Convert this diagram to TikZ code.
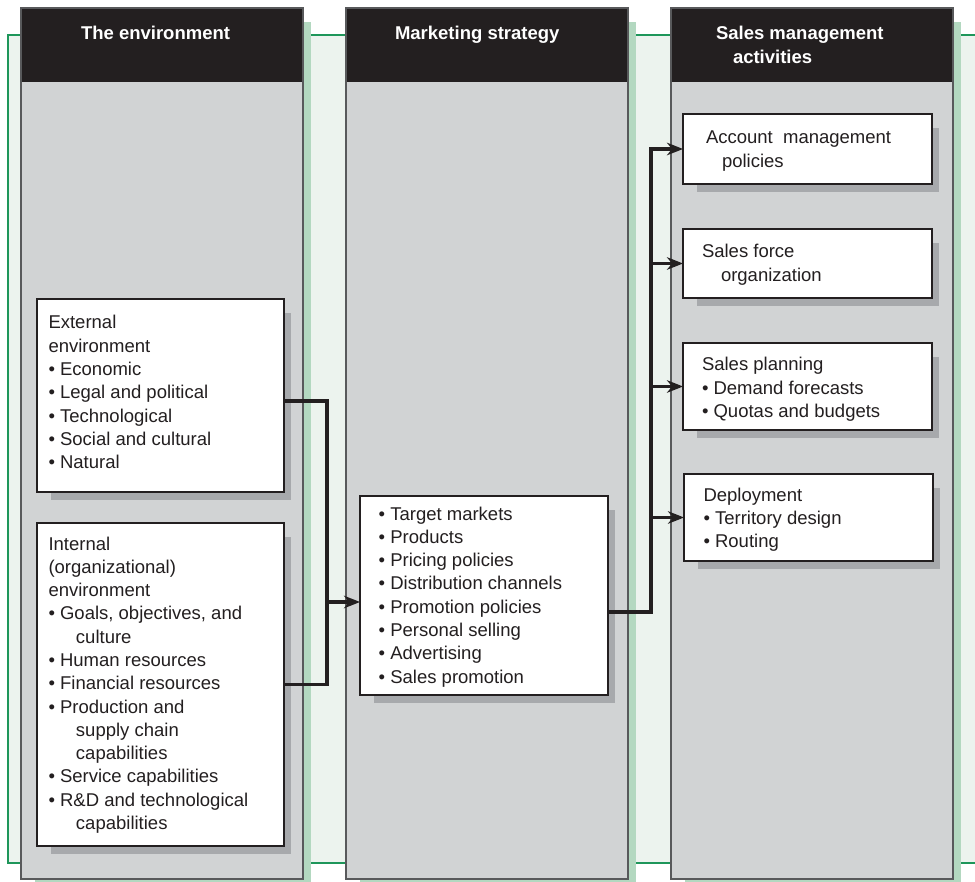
\documentclass[tikz,border=0pt]{standalone}
\usepackage{fontspec}
\setmainfont{Liberation Sans}
\usetikzlibrary{arrows.meta}

\pgfdeclarelayer{backdrop}
\pgfdeclarelayer{shade}
\pgfsetlayers{backdrop,shade,main}

\definecolor{framegreen}{RGB}{30,150,90}
\definecolor{framefill}{RGB}{236,243,238}
\definecolor{colshade}{RGB}{179,216,192}
\definecolor{colfill}{RGB}{209,211,212}
\definecolor{coledge}{RGB}{88,89,91}
\definecolor{ink}{RGB}{35,31,32}
\definecolor{boxshade}{RGB}{167,169,172}

% bullet item and hanging continuation inside the text blocks
\newcommand{\bul}{\textbullet\ }
\newcommand{\contind}{\hspace*{27.5pt}}

\begin{document}
\begin{tikzpicture}[x=1pt,y=-1pt,
  column/.style={anchor=north west, inner sep=0pt, outer sep=0pt,
    fill=colfill, draw=coledge, line width=1.3pt,
    minimum width=282pt, minimum height=871pt},
  colshadow/.style={fill=colshade},
  header/.style={fill=ink},
  headtext/.style={anchor=base west, inner sep=0pt, outer sep=0pt,
    text=white, font=\fontsize{18.5}{23.3}\selectfont\bfseries},
  itembox/.style={anchor=north west, inner sep=0pt, outer sep=0pt,
    fill=white, draw=ink, line width=2.2pt},
  boxshadow/.style={fill=boxshade},
  txt/.style={anchor=base west, inner sep=0pt, outer sep=0pt,
    text=ink, font=\fontsize{18.5}{23.3}\selectfont},
  conn/.style={draw=ink, line width=3.2pt},
  tip/.style={-{Stealth[length=16pt,width=12.5pt,inset=5pt]}}
]
\useasboundingbox (0,0) rectangle (975,882);

% ---------- green frame, columns and their shadows ----------
\begin{pgfonlayer}{backdrop}
  \filldraw[fill=framefill, draw=framegreen, line width=1.8pt]
    (8,35) rectangle (1000,863);

  \node[column, fill=none, draw=none] (col1) at (21,8) {};
  \node[column, fill=none, draw=none] (col2) at (346,8) {};
  \node[column, fill=none, draw=none] (col3) at (671,8) {};

  \foreach \c in {col1,col2,col3} {
    \fill[colshadow] ([xshift=14pt,yshift=-14pt]\c.north west)
      rectangle ([xshift=8pt,yshift=-40pt]\c.south east);
  }
  \foreach \c in {col1,col2,col3} {
    \node[column] at (\c.north west) {};
    \fill[header] ([xshift=0.6pt,yshift=-0.6pt]\c.north west)
      rectangle ([xshift=-0.6pt,yshift=-74pt]\c.north east);
  }
\end{pgfonlayer}

% ---------- column headings ----------
\node[headtext] (h1) at (81,40) {The environment};
\node[headtext] (h2) at (395,40) {Marketing strategy};
\node[headtext] (h3) at (716,40)
  {\begin{tabular}[t]{@{}l@{}}Sales management\\\hspace*{17pt}activities\end{tabular}};

% ---------- content boxes ----------
\node[itembox, minimum width=247pt, minimum height=193pt] (ext) at (37,299) {};
\node[itembox, minimum width=247pt, minimum height=323pt] (int) at (37,523) {};
\node[itembox, minimum width=248pt, minimum height=199pt] (mid) at (360,496) {};
\node[itembox, minimum width=249pt, minimum height=70pt] (acc) at (683,114) {};
\node[itembox, minimum width=249pt, minimum height=69pt] (sfo) at (683,229) {};
\node[itembox, minimum width=249pt, minimum height=87pt] (spl) at (683,343) {};
\node[itembox, minimum width=249pt, minimum height=87pt] (dep) at (684,474) {};

\begin{pgfonlayer}{shade}
  \foreach \b in {ext,int,mid,acc,sfo,spl,dep} {
    \fill[boxshadow] ([xshift=14pt,yshift=-14pt]\b.north west)
      rectangle ([xshift=7pt,yshift=-8pt]\b.south east);
  }
\end{pgfonlayer}

% ---------- box texts ----------
\node[txt] (ext-t) at (48.5,329) {\begin{tabular}[t]{@{}l@{}}
  External\\
  environment\\
  \bul Economic\\
  \bul Legal and political\\
  \bul Technological\\
  \bul Social and cultural\\
  \bul Natural
\end{tabular}};

\node[txt] (int-t) at (48.5,550) {\begin{tabular}[t]{@{}l@{}}
  Internal\\
  (organizational)\\
  environment\\
  \bul Goals, objectives, and\\
  \contind culture\\
  \bul Human resources\\
  \bul Financial resources\\
  \bul Production and\\
  \contind supply chain\\
  \contind capabilities\\
  \bul Service capabilities\\
  \bul R\&D and technological\\
  \contind capabilities
\end{tabular}};

\node[txt] (mid-t) at (378.7,520) {\begin{tabular}[t]{@{}l@{}}
  \bul Target markets\\
  \bul Products\\
  \bul Pricing policies\\
  \bul Distribution channels\\
  \bul Promotion policies\\
  \bul Personal selling\\
  \bul Advertising\\
  \bul Sales promotion
\end{tabular}};

\node[txt] (acc-t) at (706,144) {\begin{tabular}[t]{@{}l@{}}
  Account\ \ management\\
  \hspace*{16pt}policies
\end{tabular}};

\node[txt] (sfo-t) at (702,258) {\begin{tabular}[t]{@{}l@{}}
  Sales force\\
  \hspace*{19pt}organization
\end{tabular}};

\node[txt] (spl-t) at (702,371) {\begin{tabular}[t]{@{}l@{}}
  Sales planning\\
  \bul Demand forecasts\\
  \bul Quotas and budgets
\end{tabular}};

\node[txt] (dep-t) at (703.5,501) {\begin{tabular}[t]{@{}l@{}}
  Deployment\\
  \bul Territory design\\
  \bul Routing
\end{tabular}};

% ---------- connectors ----------
\coordinate (jl) at (327,602);
\coordinate (jr) at (651,0);

\draw[conn] ([yshift=-5.5pt]ext.east) -| (jl) |- (int.east);
\draw[conn,tip] (jl) -- (mid.west |- jl);

\draw[conn,tip] ([yshift=-16.5pt]mid.east) -| (jr |- acc.west) -- (acc.west);
\draw[conn,tip] (jr |- sfo.west) -- (sfo.west);
\draw[conn,tip] (jr |- spl.west) -- (spl.west);
\draw[conn,tip] (jr |- dep.west) -- (dep.west);

\end{tikzpicture}
\end{document}
